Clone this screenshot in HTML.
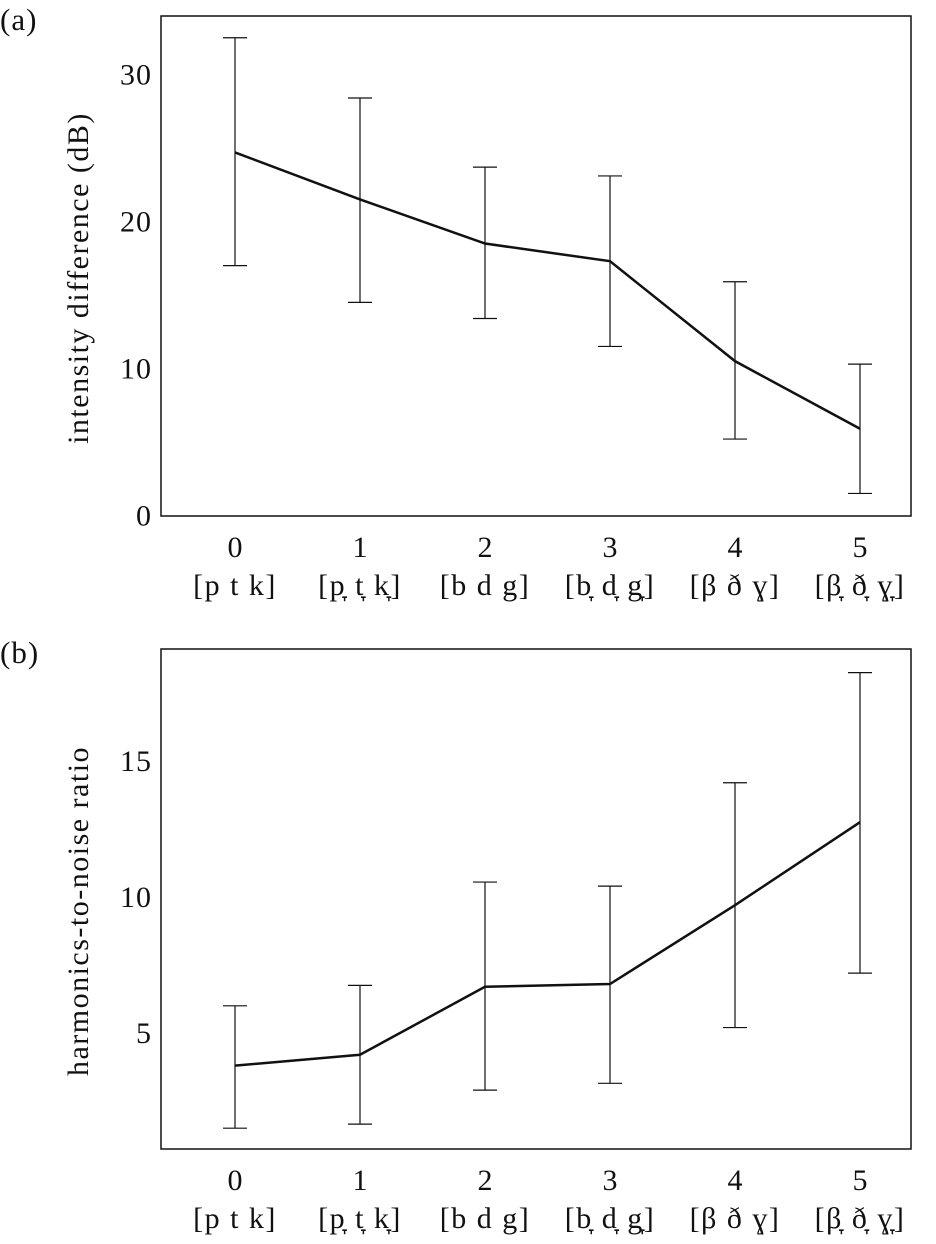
<!DOCTYPE html>
<html><head><meta charset="utf-8"><style>
body{margin:0;background:#fff;}
svg text{font-family:"Liberation Serif","DejaVu Serif",serif;fill:#111;}
</style></head><body>
<svg id="svg" width="936" height="1239" xmlns="http://www.w3.org/2000/svg"></svg>
<script>
const categories=["0","1","2","3","4","5"];
const catLabels=["[p t k]","[p\u031E t\u031E k\u031E]","[b d g]","[b\u031E d\u031E g\u031E]","[\u03B2 \u00F0 \u0263]","[\u03B2\u031E \u00F0\u031E \u0263\u031E]"];
const aMean=[24.7,21.5,18.5,17.3,10.5,5.9];
const aUpper=[32.5,28.4,23.7,23.1,15.9,10.3];
const aLower=[17.0,14.5,13.4,11.5,5.2,1.5];
const aTicks=[0,10,20,30];
const bMean=[3.8,4.2,6.7,6.8,9.7,12.75];
const bUpper=[6.0,6.75,10.55,10.4,14.2,18.25];
const bLower=[1.5,1.65,2.9,3.15,5.2,7.2];
const bTicks=[5,10,15];
const NS="http://www.w3.org/2000/svg";
const svg=document.getElementById('svg');
function mk(t,a,p){const e=document.createElementNS(NS,t);for(const k in a)e.setAttribute(k,a[k]);(p||svg).appendChild(e);return e;}
function panel(o){
  const g=mk('g',{});
  
  
  const x=i=>235+125*i;
  const y=v=>o.y0-o.k*v;
  const box=mk('rect',{x:161,y:o.top,width:750,height:500,fill:'none',stroke:'#111','stroke-width':1.5},g);
  
  
  const pl=mk('text',{x:0,y:o.top+14,'font-size':31,'letter-spacing':1},g);pl.textContent=o.letter;
  
  
  o.ticks.forEach(t=>{const e=mk('text',{x:152,y:y(t)+10,'font-size':30,'text-anchor':'end','letter-spacing':1},g);e.textContent=t;
    
    });
  const yt=mk('text',{x:0,y:0,'font-size':30,'text-anchor':'middle','letter-spacing':1.5,transform:`translate(88,${o.top+262}) rotate(-90)`},g);yt.textContent=o.title;
  
  
  categories.forEach((c,i)=>{
    const a=mk('text',{x:x(i),y:o.top+541,'font-size':30,'text-anchor':'middle'},g);a.textContent=c;
    
    
    const b=mk('text',{x:x(i),y:o.top+579,'font-size':30,'text-anchor':'middle','letter-spacing':1.5},g);b.textContent=catLabels[i];
    
    
    const eb=mk('path',{d:`M${x(i)-12},${y(o.up[i])}H${x(i)+12}M${x(i)},${y(o.up[i])}V${y(o.lo[i])}M${x(i)-12},${y(o.lo[i])}H${x(i)+12}`,stroke:'#111','stroke-width':1.2,fill:'none'},g);
    
    
  });
  const ln=mk('polyline',{points:o.mean.map((v,i)=>x(i)+','+y(v)).join(' '),fill:'none',stroke:'#111','stroke-width':2.5},g);
  
  
}
panel({name:'panel-a',letter:'(a)',top:16,y0:515.5,k:14.7,ticks:aTicks,title:'intensity difference (dB)',mean:aMean,up:aUpper,lo:aLower});
panel({name:'panel-b',letter:'(b)',top:649,y0:1169,k:27.2,ticks:bTicks,title:'harmonics-to-noise ratio',mean:bMean,up:bUpper,lo:bLower});
</script>
</body></html>
